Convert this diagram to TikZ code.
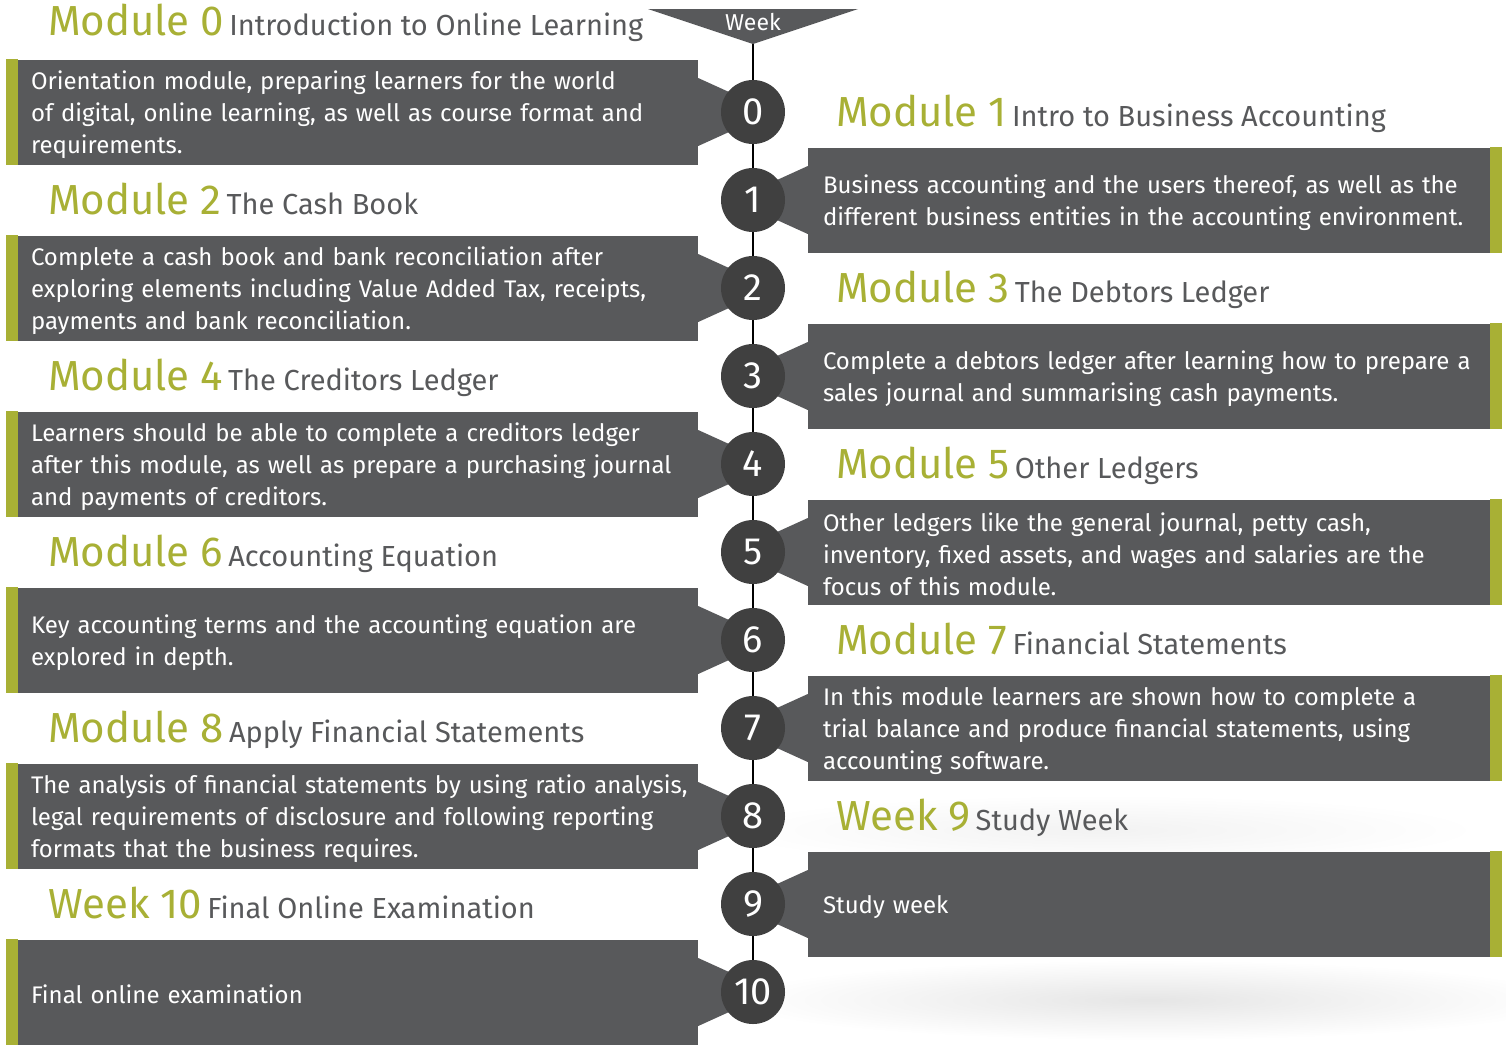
\documentclass[tikz,border=0pt]{standalone}
\usepackage{fontspec}
\setmainfont{Fira Sans}
\usepackage{xcolor}
\usepackage{tikz}
\usetikzlibrary{positioning, backgrounds}
\definecolor{boxgray}{HTML}{58595B}
\definecolor{dotgray}{HTML}{404040}
\definecolor{leaf}{HTML}{A8B035}
\newcommand{\modtitle}[2]{{\color{leaf}\fontsize{42}{42}\selectfont #1}\hspace{5pt}{\fontsize{29}{29}\selectfont #2}}

\begin{document}
\begin{tikzpicture}[x=1pt,y=-1pt,node distance=88pt,on grid,
        week/.style={circle,fill=dotgray,text=white,minimum size=64pt,inner sep=0pt,font=\fontsize{38}{38}\selectfont},
        lbox/.style={fill=boxgray,text=white,minimum height=105pt,text width=642pt,inner xsep=25pt,align=left,font=\fontsize{24}{32}\selectfont,execute at begin node={\rule{0pt}{24pt}}},
        rbox/.style={fill=boxgray,text=white,minimum height=105pt,text width=664pt,inner xsep=15pt,align=left,font=\fontsize{24}{32}\selectfont,execute at begin node={\rule{0pt}{24pt}}},
        title/.style={anchor=base west,inner sep=0pt,text=boxgray},
        bar/.style={fill=leaf},
        tab/.style={fill=boxgray}]
        \useasboundingbox (0,0) rectangle (1506,1045);

        % week marker
        \coordinate                 (apex)   at (753,44);
        \fill[boxgray] (648,9) -- (858,9) -- (apex) -- cycle;
        \node[text=white,font=\fontsize{23}{23}\selectfont] (wk) at (753,22) {Week};

        \node[week]                 (w_0)    at (753,112)                      {0};
        \node[week]                 (w_1)    [below of=w_0]                    {1};
        \node[week]                 (w_2)    [below of=w_1]                    {2};
        \node[week]                 (w_3)    [below of=w_2]                    {3};
        \node[week]                 (w_4)    [below of=w_3]                    {4};
        \node[week]                 (w_5)    [below of=w_4]                    {5};
        \node[week]                 (w_6)    [below of=w_5]                    {6};
        \node[week]                 (w_7)    [below of=w_6]                    {7};
        \node[week]                 (w_8)    [below of=w_7]                    {8};
        \node[week]                 (w_9)    [below of=w_8]                    {9};
        \node[week]                 (w_10)   [below of=w_9]                    {10};

        % left column
        \node[lbox]                 (b_0)    [left=401pt of w_0]               {Orientation module, preparing learners for the world\\of digital, online learning, as well as course format and\\requirements.};
        \node[lbox]                 (b_2)    [left=401pt of w_2]               {Complete a cash book and bank reconciliation after\\exploring elements including Value Added Tax, receipts,\\payments and bank reconciliation.};
        \node[lbox]                 (b_4)    [left=401pt of w_4]               {Learners should be able to complete a creditors ledger\\after this module, as well as prepare a purchasing journal\\and payments of creditors.};
        \node[lbox]                 (b_6)    [left=401pt of w_6]               {Key accounting terms and the accounting equation are\\explored in depth.};
        \node[lbox]                 (b_8)    [left=401pt of w_8]               {\mbox{The analysis of financial statements by using ratio analysis,}\\legal requirements of disclosure and following reporting\\formats that the business requires.};
        \node[lbox]                 (b_10)   [left=401pt of w_10]              {Final online examination};

        % right column
        \node[rbox]                 (b_1)    [right=402pt of w_1]              {Business accounting and the users thereof, as well as the\\different business entities in the accounting environment.};
        \node[rbox]                 (b_3)    [right=402pt of w_3]              {Complete a debtors ledger after learning how to prepare a\\sales journal and summarising cash payments.};
        \node[rbox]                 (b_5)    [right=402pt of w_5]              {Other ledgers like the general journal, petty cash,\\inventory, fixed assets, and wages and salaries are the\\focus of this module.};
        \node[rbox]                 (b_7)    [right=402pt of w_7]              {In this module learners are shown how to complete a\\trial balance and produce financial statements, using\\accounting software.};
        \node[rbox]                 (b_9)    [right=402pt of w_9]              {Study week};

        % titles
        \node[title] (t_0)  at ([xshift=42pt,yshift=24pt]b_0.north west)  {\modtitle{Module 0}{Introduction to Online Learning}};
        \node[title] (t_2)  at ([xshift=42pt,yshift=21pt]b_2.north west)  {\modtitle{Module 2}{The Cash Book}};
        \node[title] (t_4)  at ([xshift=42pt,yshift=21pt]b_4.north west)  {\modtitle{Module 4}{The Creditors Ledger}};
        \node[title] (t_6)  at ([xshift=42pt,yshift=21pt]b_6.north west)  {\modtitle{Module 6}{Accounting Equation}};
        \node[title] (t_8)  at ([xshift=42pt,yshift=21pt]b_8.north west)  {\modtitle{Module 8}{Apply Financial Statements}};
        \node[title] (t_10) at ([xshift=42pt,yshift=21pt]b_10.north west) {\modtitle{Week 10}{Final Online Examination}};
        \node[title] (t_1)  at ([xshift=28pt,yshift=21pt]b_1.north west)  {\modtitle{Module 1}{Intro to Business Accounting}};
        \node[title] (t_3)  at ([xshift=28pt,yshift=21pt]b_3.north west)  {\modtitle{Module 3}{The Debtors Ledger}};
        \node[title] (t_5)  at ([xshift=28pt,yshift=21pt]b_5.north west)  {\modtitle{Module 5}{Other Ledgers}};
        \node[title] (t_7)  at ([xshift=28pt,yshift=21pt]b_7.north west)  {\modtitle{Module 7}{Financial Statements}};
        \node[title] (t_9)  at ([xshift=28pt,yshift=21pt]b_9.north west)  {\modtitle{Week 9}{Study Week}};

        % green edges
        \fill[bar] (b_0.north west)  rectangle ([xshift=12pt]b_0.south west);
        \fill[bar] (b_2.north west)  rectangle ([xshift=12pt]b_2.south west);
        \fill[bar] (b_4.north west)  rectangle ([xshift=12pt]b_4.south west);
        \fill[bar] (b_6.north west)  rectangle ([xshift=12pt]b_6.south west);
        \fill[bar] (b_8.north west)  rectangle ([xshift=12pt]b_8.south west);
        \fill[bar] (b_10.north west) rectangle ([xshift=12pt]b_10.south west);
        \fill[bar] ([xshift=-12pt]b_1.north east) rectangle (b_1.south east);
        \fill[bar] ([xshift=-12pt]b_3.north east) rectangle (b_3.south east);
        \fill[bar] ([xshift=-12pt]b_5.north east) rectangle (b_5.south east);
        \fill[bar] ([xshift=-12pt]b_7.north east) rectangle (b_7.south east);
        \fill[bar] ([xshift=-12pt]b_9.north east) rectangle (b_9.south east);

        \begin{scope}[on background layer]
        \fill[white] (0,0) rectangle (1506,1045);
        \shade[inner color=black!10,outer color=white] (1150,1000) ellipse (420pt and 40pt);
        \shade[inner color=black!5,outer color=white] (1100,830) ellipse (380pt and 35pt);
        % spine
        \draw[line width=2pt] (apex) -- (w_10.center);
        % tabs from boxes to circles
        \fill[tab] ([yshift=34pt]b_0.east)  -- ([xshift=20pt]w_0.center)  -- ([yshift=-34pt]b_0.east)  -- cycle;
        \fill[tab] ([yshift=34pt]b_2.east)  -- ([xshift=20pt]w_2.center)  -- ([yshift=-34pt]b_2.east)  -- cycle;
        \fill[tab] ([yshift=34pt]b_4.east)  -- ([xshift=20pt]w_4.center)  -- ([yshift=-34pt]b_4.east)  -- cycle;
        \fill[tab] ([yshift=34pt]b_6.east)  -- ([xshift=20pt]w_6.center)  -- ([yshift=-34pt]b_6.east)  -- cycle;
        \fill[tab] ([yshift=34pt]b_8.east)  -- ([xshift=20pt]w_8.center)  -- ([yshift=-34pt]b_8.east)  -- cycle;
        \fill[tab] ([yshift=34pt]b_10.east) -- ([xshift=20pt]w_10.center) -- ([yshift=-34pt]b_10.east) -- cycle;
        \fill[tab] ([yshift=34pt]b_1.west)  -- ([xshift=-20pt]w_1.center) -- ([yshift=-34pt]b_1.west)  -- cycle;
        \fill[tab] ([yshift=34pt]b_3.west)  -- ([xshift=-20pt]w_3.center) -- ([yshift=-34pt]b_3.west)  -- cycle;
        \fill[tab] ([yshift=34pt]b_5.west)  -- ([xshift=-20pt]w_5.center) -- ([yshift=-34pt]b_5.west)  -- cycle;
        \fill[tab] ([yshift=34pt]b_7.west)  -- ([xshift=-20pt]w_7.center) -- ([yshift=-34pt]b_7.west)  -- cycle;
        \fill[tab] ([yshift=34pt]b_9.west)  -- ([xshift=-20pt]w_9.center) -- ([yshift=-34pt]b_9.west)  -- cycle;
        \end{scope}
\end{tikzpicture}
\end{document}
